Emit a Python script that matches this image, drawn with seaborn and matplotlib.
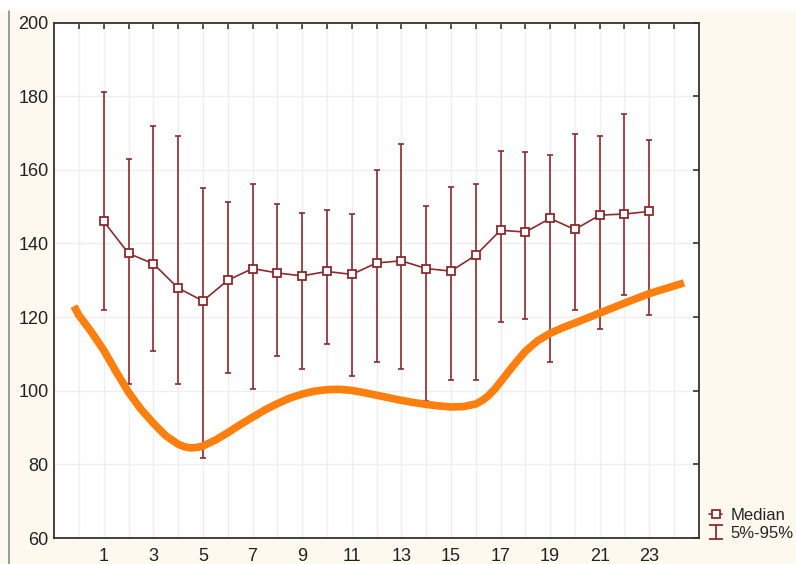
import matplotlib
matplotlib.use("Agg")
import matplotlib.pyplot as plt
from matplotlib.lines import Line2D
from matplotlib.patches import Rectangle
from matplotlib.path import Path
import seaborn as sns
import pandas as pd

# Hourly medians with 5%-95% range
hours = list(range(1, 24))
median = [146, 137.3, 134.5, 127.9, 124.4, 130, 133.2, 132, 131.2, 132.4, 131.6, 134.7,
          135.3, 133.2, 132.5, 136.8, 143.6, 143.1, 146.8, 143.8, 147.7, 148, 148.7]
p95 = [181.1, 163, 171.9, 169.1, 155.1, 151.3, 156.1, 150.7, 148.2, 149, 148, 160,
       167.1, 150.1, 155.4, 156.1, 165.1, 164.8, 164.1, 169.7, 169.1, 175.2, 168.1]
p05 = [122, 101.8, 110.8, 101.8, 81.8, 104.8, 100.5, 109.4, 105.9, 112.8, 103.9, 107.9,
       105.9, 97.3, 102.8, 102.8, 118.6, 119.4, 107.9, 122, 116.8, 125.9, 120.7]

# Reference curve (orange)
curve_x = [-0.2, 0, 0.5, 1, 1.5, 2, 2.5, 3, 3.5, 4, 4.25, 4.5, 4.75, 5, 5.5, 6, 6.5, 7,
           7.5, 8, 8.5, 9, 9.5, 10, 10.5, 11, 11.5, 12, 12.5, 13, 13.5, 14, 14.5, 15,
           15.5, 16, 16.25, 16.5, 16.75, 17, 17.5, 18, 18.5, 19, 19.5, 20, 21, 22, 23, 24.4]
curve_y = [123, 120.5, 116, 111, 105.2, 99.6, 95, 91.2, 87.8, 85.5, 84.8, 84.5, 84.6, 85,
           86.6, 88.6, 90.8, 92.8, 94.8, 96.5, 98, 99.1, 99.9, 100.3, 100.4, 100.1, 99.5,
           98.8, 98.1, 97.4, 96.8, 96.3, 95.9, 95.6, 95.7, 96.4, 97.3, 98.6, 100.3, 102.4,
           106.7, 110.7, 113.6, 115.6, 117.1, 118.4, 121.1, 123.8, 126.4, 129.3]

DARK_RED = "#8b2b2e"
ORANGE = "#ff7f0e"

sns.set_style("white")
plt.rcParams["font.family"] = ["Liberation Sans", "DejaVu Sans"]

fig = plt.figure(figsize=(7.96, 5.64), dpi=100, facecolor="#fdf9ee")
# white strip on top and thin frame line at left, as in the screenshot
fig.add_artist(Rectangle((0, 0.98), 1, 0.02, transform=fig.transFigure,
                         facecolor="white", edgecolor="none", zorder=0))
fig.add_artist(Line2D([0.011, 0.011], [0, 0.98], transform=fig.transFigure,
                      color="#8a8a8a", lw=1.2))

ax = fig.add_axes([0.068, 0.046, 0.810, 0.914])
ax.set_facecolor("white")

df_med = pd.DataFrame({"hour": hours, "median": median, "lo": p05, "hi": p95})
df_curve = pd.DataFrame({"x": curve_x, "y": curve_y})

sns.lineplot(data=df_curve, x="x", y="y", ax=ax, color=ORANGE, lw=5.5,
             solid_capstyle="butt", solid_joinstyle="round", zorder=4)

ax.errorbar(df_med["hour"], df_med["median"],
            yerr=[df_med["median"] - df_med["lo"], df_med["hi"] - df_med["median"]],
            fmt="none", ecolor=DARK_RED, elinewidth=1.2, capsize=2.5, capthick=1.2, zorder=3)
sns.lineplot(data=df_med, x="hour", y="median", ax=ax, color=DARK_RED, lw=1.2,
             marker="s", markersize=6, markerfacecolor="white",
             markeredgecolor=DARK_RED, markeredgewidth=1.3, zorder=5)

ax.set_xlim(-1, 25)
ax.set_ylim(60, 200)
ax.set_xticks(range(0, 25))
ax.set_xticklabels([str(h) if h % 2 == 1 else "" for h in range(0, 25)])
ax.set_yticks(range(60, 201, 20))
ax.set_xlabel("")
ax.set_ylabel("")

ax.grid(True, color="#efefef", lw=1)
ax.set_axisbelow(True)
for s in ax.spines.values():
    s.set_color("#333333")
    s.set_linewidth(1.3)
ax.tick_params(axis="both", direction="in", length=4, width=1.2, color="#333333",
               labelsize=13, labelcolor="#222222", top=True, right=True, left=False)
ax.tick_params(axis="x", pad=7)
ax.tick_params(axis="y", pad=4)

# I-beam glyph for the 5%-95% legend entry
ibeam = Path([(-1, -1), (1, -1), (0, -1), (0, 1), (-1, 1), (1, 1)],
             [Path.MOVETO, Path.LINETO, Path.MOVETO, Path.LINETO, Path.MOVETO, Path.LINETO])
handles = [
    Line2D([], [], color=DARK_RED, lw=1.2, marker="s", markersize=6,
           markerfacecolor="white", markeredgecolor=DARK_RED, markeredgewidth=1.3),
    Line2D([], [], color=DARK_RED, lw=0, marker=ibeam, markersize=10,
           markerfacecolor="none", markeredgecolor=DARK_RED, markeredgewidth=1.3),
]
ax.legend(handles, ["Median", "5%-95%"], loc="lower left", bbox_to_anchor=(1.0, -0.025),
          frameon=False, fontsize=12, handlelength=0.8, handletextpad=0.5,
          labelspacing=0.2, borderaxespad=0.2)

fig.savefig("out.png", dpi=100, facecolor=fig.get_facecolor())
